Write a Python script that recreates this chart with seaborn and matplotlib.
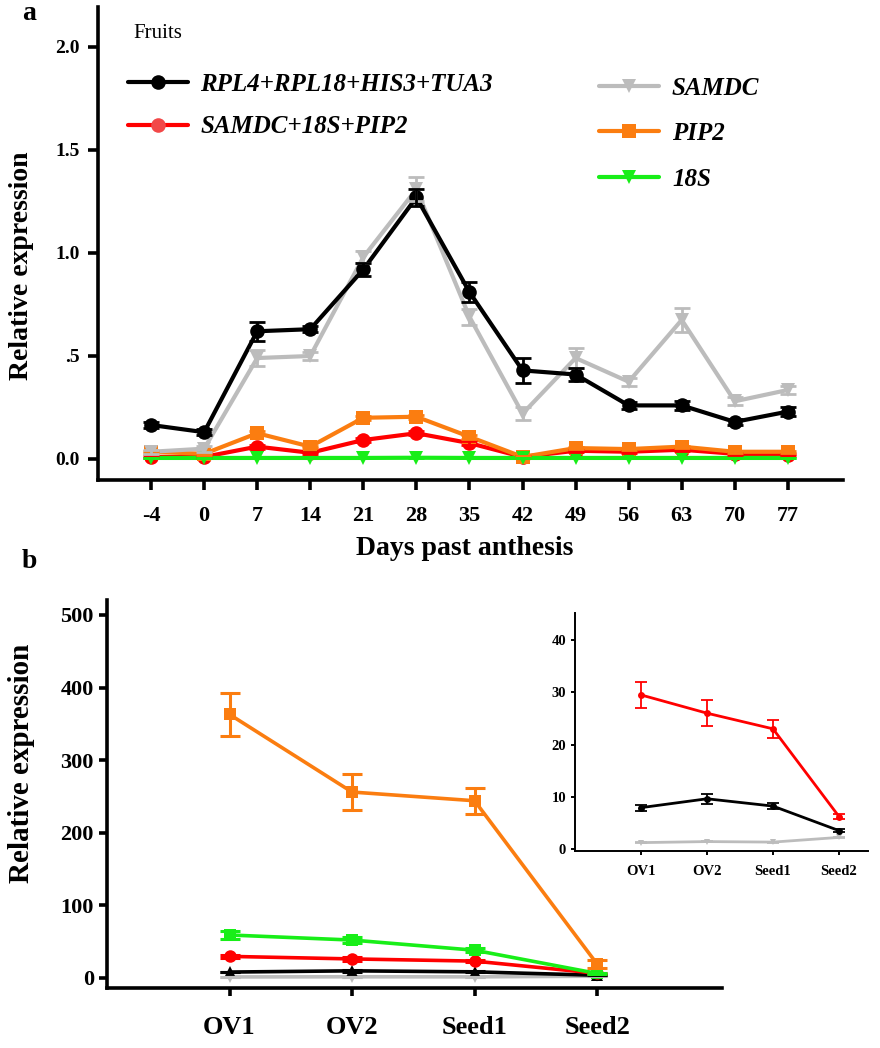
import numpy as np
import pandas as pd
import seaborn as sns
import matplotlib.pyplot as plt

sns.set_style('ticks')
plt.rcParams['font.family'] = ['Liberation Serif', 'DejaVu Serif']
plt.rcParams['font.weight'] = 'bold'
for k in ['axes.edgecolor', 'xtick.color', 'ytick.color', 'text.color', 'axes.labelcolor']:
    plt.rcParams[k] = 'black'

# ---- panel a: fruits, days past anthesis
days = ['-4', '0', '7', '14', '21', '28', '35', '42', '49', '56', '63', '70', '77']
ref4 = [0.165, 0.13, 0.62, 0.63, 0.92, 1.27, 0.81, 0.43, 0.41, 0.26, 0.26, 0.18, 0.23]
ref4_err = [0.015, 0.015, 0.045, 0.015, 0.03, 0.04, 0.05, 0.06, 0.03, 0.015, 0.02, 0.015, 0.02]
ref3 = [0.01, 0.01, 0.06, 0.03, 0.092, 0.125, 0.077, 0.01, 0.04, 0.035, 0.045, 0.025, 0.02]
ref3_err = [0.005, 0.005, 0.01, 0.005, 0.01, 0.01, 0.01, 0.005, 0.005, 0.005, 0.005, 0.005, 0.005]
samdc = [0.035, 0.05, 0.49, 0.50, 0.98, 1.31, 0.69, 0.22, 0.49, 0.375, 0.675, 0.28, 0.335]
samdc_err = [0.01, 0.015, 0.04, 0.02, 0.03, 0.06, 0.04, 0.03, 0.05, 0.02, 0.06, 0.02, 0.02]
pip2 = [0.035, 0.025, 0.125, 0.06, 0.20, 0.205, 0.108, 0.01, 0.053, 0.048, 0.06, 0.035, 0.035]
pip2_err = [0.005, 0.005, 0.01, 0.005, 0.01, 0.01, 0.01, 0.005, 0.005, 0.005, 0.005, 0.005, 0.005]
s18 = [0.005, 0.005, 0.005, 0.005, 0.005, 0.006, 0.005, 0.005, 0.005, 0.005, 0.005, 0.005, 0.005]
s18_err = [0.002, 0.002, 0.002, 0.002, 0.002, 0.002, 0.002, 0.002, 0.002, 0.002, 0.002, 0.002, 0.002]

# ---- panel b: ovules and seeds
tissues = ['OV1', 'OV2', 'Seed1', 'Seed2']
b_ref4 = [7.9, 9.6, 8.2, 3.5]
b_ref4_err = [0.6, 1.0, 0.5, 0.3]
b_ref3 = [29.5, 26.0, 23.0, 6.2]
b_ref3_err = [2.5, 2.5, 1.7, 0.5]
b_samdc = [1.2, 1.4, 1.3, 2.2]
b_samdc_err = [0.1, 0.1, 0.1, 0.1]
b_pip2 = [363, 256, 244, 19]
b_pip2_err = [30, 25, 18, 5]
b_18s = [59, 52, 38, 6]
b_18s_err = [5, 4, 3, 1]

names = ['RPL4+RPL18+HIS3+TUA3', 'SAMDC+18S+PIP2', 'SAMDC', 'PIP2', '18S']
pal = {'RPL4+RPL18+HIS3+TUA3': '#000000', 'SAMDC+18S+PIP2': '#ff0000',
       'SAMDC': '#bcbcbc', 'PIP2': '#fb7d10', '18S': '#18ee18'}
mk = {'RPL4+RPL18+HIS3+TUA3': 'o', 'SAMDC+18S+PIP2': 'o',
      'SAMDC': 'v', 'PIP2': 's', '18S': 'v'}
draw_order = ['SAMDC+18S+PIP2', 'PIP2', '18S', 'SAMDC', 'RPL4+RPL18+HIS3+TUA3']

a_vals = dict(zip(names, [ref4, ref3, samdc, pip2, s18]))
a_errs = dict(zip(names, [ref4_err, ref3_err, samdc_err, pip2_err, s18_err]))
b_vals = dict(zip(names, [b_ref4, b_ref3, b_samdc, b_pip2, b_18s]))
b_errs = dict(zip(names, [b_ref4_err, b_ref3_err, b_samdc_err, b_pip2_err, b_18s_err]))

df_a = pd.concat([pd.DataFrame({'pos': np.arange(len(days)), 'value': a_vals[n], 'gene': n})
                  for n in names])
df_b = pd.concat([pd.DataFrame({'pos': np.arange(len(tissues)), 'value': b_vals[n], 'gene': n})
                  for n in names])

fig = plt.figure(figsize=(8.8, 10.48), dpi=100)


def style_axes(ax, lw, tlen):
    sns.despine(ax=ax)
    for s in ['left', 'bottom']:
        ax.spines[s].set_linewidth(lw)
    ax.tick_params(width=lw, length=tlen, direction='out')


# ================= panel a
ax_a = fig.add_axes([0.1114, 0.542, 0.8466, 0.4513])
sns.lineplot(data=df_a, x='pos', y='value', hue='gene', style='gene', hue_order=draw_order,
             style_order=draw_order, palette=pal, markers=mk, dashes=False, linewidth=3,
             markersize=10.5, markeredgewidth=0, ax=ax_a)
for i, n in enumerate(draw_order):
    ax_a.errorbar(np.arange(len(days)), a_vals[n], yerr=a_errs[n], fmt='none', ecolor=pal[n],
                  elinewidth=2, capsize=6, capthick=2, zorder=2 + i * 0.1)
for ln in ax_a.lines:
    if ln.get_label() == 'SAMDC+18S+PIP2':
        ln.set_markerfacecolor('#f24848')
handles, labels = ax_a.get_legend_handles_labels()
ax_a.get_legend().remove()
hmap = dict(zip(labels, handles))

ax_a.set_xlim(-1, 13.04)
ax_a.set_ylim(-0.102, 2.194)
ax_a.set_xticks(np.arange(len(days)))
ax_a.set_xticklabels(days, fontsize=16)
ax_a.set_yticks([0, 0.5, 1.0, 1.5, 2.0])
ax_a.set_yticklabels(['0.0', '.5', '1.0', '1.5', '2.0'], fontsize=14)
ax_a.set_xlabel('')
ax_a.set_ylabel('')
style_axes(ax_a, 2.6, 7)
ax_a.tick_params(axis='x', pad=12)
ax_a.tick_params(axis='y', pad=6)

leg_font = {'family': 'Liberation Serif', 'weight': 'bold', 'style': 'italic', 'size': 18}
leg1 = ax_a.legend([hmap[n] for n in names[:2]], names[:2], loc='upper left',
                   bbox_to_anchor=(0.04, 0.86), frameon=False, prop=leg_font,
                   handlelength=2.4, handletextpad=0.5, labelspacing=0.77,
                   borderpad=0, borderaxespad=0)
ax_a.add_artist(leg1)
ax_a.legend([hmap[n] for n in names[2:]], names[2:], loc='upper left',
            bbox_to_anchor=(0.673, 0.853), frameon=False, prop=leg_font,
            handlelength=2.4, handletextpad=0.5, labelspacing=0.9,
            borderpad=0, borderaxespad=0)
ax_a.text(0.047, 0.945, 'Fruits', transform=ax_a.transAxes, fontsize=15,
          fontweight='normal', ha='left', va='center')

fig.text(0.024, 0.746, 'Relative expression', rotation=90, fontsize=20,
         ha='center', va='center')
fig.text(0.528, 0.477, 'Days past anthesis', fontsize=20, ha='center', va='center')
fig.text(0.025, 0.987, 'a', fontsize=20, ha='left', va='center')
fig.text(0.025, 0.464, 'b', fontsize=20, ha='left', va='center')

# ================= panel b
ax_b = fig.add_axes([0.1216, 0.0573, 0.6989, 0.3702])
b_mk = {'RPL4+RPL18+HIS3+TUA3': '^', 'SAMDC+18S+PIP2': 'o',
        'SAMDC': 'v', 'PIP2': 's', '18S': 's'}
b_order = ['SAMDC', 'RPL4+RPL18+HIS3+TUA3', 'SAMDC+18S+PIP2', '18S', 'PIP2']
sns.lineplot(data=df_b, x='pos', y='value', hue='gene', style='gene', hue_order=b_order,
             style_order=b_order, palette=pal, markers=b_mk, dashes=False, linewidth=2.6,
             markersize=9, markeredgewidth=0, legend=False, ax=ax_b)
for i, n in enumerate(b_order):
    ax_b.errorbar(np.arange(len(tissues)), b_vals[n], yerr=b_errs[n], fmt='none',
                  ecolor=pal[n], elinewidth=2.2, capsize=7, capthick=2.2, zorder=2 + i * 0.1)
ax_b.set_xlim(-1, 4.02)
ax_b.set_ylim(-14, 520.7)
ax_b.set_xticks(np.arange(len(tissues)))
ax_b.set_xticklabels(tissues, fontsize=19)
ax_b.set_yticks([0, 100, 200, 300, 400, 500])
ax_b.set_yticklabels(['0', '100', '200', '300', '400', '500'], fontsize=16)
ax_b.set_xlabel('')
ax_b.set_ylabel('')
style_axes(ax_b, 2.6, 6)
ax_b.tick_params(axis='x', pad=14)
fig.text(0.024, 0.272, 'Relative expression', rotation=90, fontsize=21,
         ha='center', va='center')

# ================= inset
ax_in = fig.add_axes([0.6534, 0.188, 0.333, 0.2271])
in_order = ['SAMDC', 'RPL4+RPL18+HIS3+TUA3', 'SAMDC+18S+PIP2']
sns.lineplot(data=df_b[df_b['gene'].isin(in_order)], x='pos', y='value', hue='gene',
             style='gene', hue_order=in_order, style_order=in_order, palette=pal,
             markers={'SAMDC': 'v', 'RPL4+RPL18+HIS3+TUA3': 'o', 'SAMDC+18S+PIP2': 'o'},
             dashes=False, linewidth=2, markersize=5, markeredgewidth=0, legend=False, ax=ax_in)
for n in in_order:
    ax_in.errorbar(np.arange(len(tissues)), b_vals[n], yerr=b_errs[n], fmt='none',
                   ecolor=pal[n], elinewidth=1.3, capsize=4, capthick=1.3)
ax_in.set_xlim(-1, 3.44)
ax_in.set_ylim(-0.4, 45.2)
ax_in.set_xticks(np.arange(len(tissues)))
ax_in.set_xticklabels(tissues, fontsize=10.5)
ax_in.set_yticks([0, 10, 20, 30, 40])
ax_in.set_yticklabels(['0', '10', '20', '30', '40'], fontsize=10.5)
ax_in.set_xlabel('')
ax_in.set_ylabel('')
style_axes(ax_in, 1.4, 3)
ax_in.tick_params(axis='x', pad=7)

fig.savefig('out.png', dpi=100)
